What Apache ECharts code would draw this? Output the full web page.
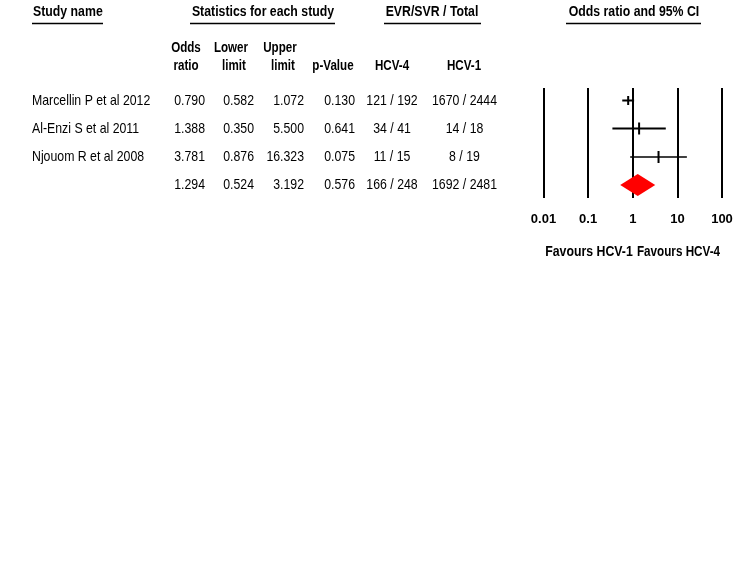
<!DOCTYPE html>
<html><head><meta charset="utf-8">
<script src="https://cdn.jsdelivr.net/npm/echarts@6/dist/echarts.min.js"></script>
<style>html,body{margin:0;padding:0;background:#fff}#c{width:736px;height:584px}</style>
</head><body><div id="c"></div>
<script>
// ---- data ----
const studies = ['Marcellin P et al 2012', 'Al-Enzi S et al 2011', 'Njouom R et al 2008', ''];
const oddsRatio = [0.790, 1.388, 3.781, 1.294];
const lowerLimit = [0.582, 0.350, 0.876, 0.524];
const upperLimit = [1.072, 5.500, 16.323, 3.192];
const pValue = [0.130, 0.641, 0.075, 0.576];
const hcv4 = ['121 / 192', '34 / 41', '11 / 15', '166 / 248'];
const hcv1 = ['1670 / 2444', '14 / 18', '8 / 19', '1692 / 2481'];
const xTicks = [0.01, 0.1, 1, 10, 100];
const favourLabels = ['Favours HCV-1', 'Favours HCV-4'];

// ---- layout ----
const FONT = "'Liberation Sans', Arial, sans-serif";
const NARROW = 0.82;
const rowY = [100.5, 128.5, 157, 185];
const chart = echarts.init(document.getElementById('c'));
const g = [];
function txt(x, y, s, opt) {
  opt = opt || {};
  g.push({type: 'text', x: x, y: y, scaleX: opt.sx || NARROW, scaleY: 1,
    style: {text: s, fill: '#000', font: (opt.bold ? 'bold ' : '') + (opt.size || 15) + 'px ' + FONT,
      textAlign: opt.align || 'left', textVerticalAlign: 'middle'}});
}
function hline(x1, x2, y) {
  g.push({type: 'line', shape: {x1: x1, y1: y, x2: x2, y2: y}, style: {stroke: '#000', lineWidth: 1.5}});
}
// headers
txt(33, 12, 'Study name', {bold: true}); hline(32, 103, 23.5);
txt(263, 12, 'Statistics for each study', {bold: true, align: 'center'}); hline(190, 335, 23.5);
txt(432, 12, 'EVR/SVR / Total', {bold: true, align: 'center'}); hline(384, 481, 23.5);
txt(634, 12, 'Odds ratio and 95% CI', {bold: true, align: 'center'}); hline(566, 701, 23.5);
const sh = {bold: true, align: 'center', size: 14.5, sx: 0.8};
txt(186, 48, 'Odds', sh); txt(186, 66, 'ratio', sh);
txt(231, 48, 'Lower', sh); txt(234, 66, 'limit', sh);
txt(280, 48, 'Upper', sh); txt(283, 66, 'limit', sh);
txt(333, 66, 'p-Value', sh);
txt(392, 66, 'HCV-4', sh);
txt(464, 66, 'HCV-1', sh);
for (let i = 0; i < studies.length; i++) {
  const y = rowY[i];
  txt(32, y, studies[i]);
  txt(205, y, oddsRatio[i].toFixed(3), {align: 'right'});
  txt(254, y, lowerLimit[i].toFixed(3), {align: 'right'});
  txt(304, y, upperLimit[i].toFixed(3), {align: 'right'});
  txt(355, y, pValue[i].toFixed(3), {align: 'right'});
  txt(392, y, hcv4[i], {align: 'center'});
  txt(464.5, y, hcv1[i], {align: 'center'});
}
txt(589, 252, favourLabels[0], {bold: true, align: 'center', size: 15});
txt(678.5, 252, favourLabels[1], {bold: true, align: 'center', size: 15, sx: 0.78});

const studyData = [];
for (let i = 0; i < 3; i++) studyData.push([lowerLimit[i], oddsRatio[i], upperLimit[i], i + 1]);
const summaryData = [[lowerLimit[3], oddsRatio[3], upperLimit[3], 4]];
const lineW = [2, 2, 1.3];
const tickH = [4.5, 6, 6];

chart.setOption({
  animation: false,
  graphic: g,
  grid: {left: 543.5, width: 178.5, top: 88, height: 110},
  xAxis: {
    type: 'log', logBase: 10, min: 0.01, max: 100,
    axisLine: {show: false}, axisTick: {show: false},
    splitLine: {show: true, lineStyle: {color: '#000', width: 2}},
    axisLabel: {color: '#000', fontWeight: 'bold', fontSize: 13, fontFamily: FONT, margin: 15,
      formatter: v => { const t = xTicks.find(k => Math.abs(Math.log10(k) - Math.log10(v)) < 1e-6); return t === undefined ? '' : String(t); }}
  },
  yAxis: {type: 'value', inverse: true, min: 0.58, max: 4.46, show: false, splitLine: {show: false}},
  series: [
    {
      type: 'custom', data: studyData, encode: {x: [0, 1, 2], y: 3},
      renderItem: function (params, api) {
        const i = params.dataIndex;
        const p1 = api.coord([api.value(0), api.value(3)]);
        const p2 = api.coord([api.value(2), api.value(3)]);
        const pm = api.coord([api.value(1), api.value(3)]);
        const yy = rowY[i];
        const st = {stroke: '#000', lineWidth: lineW[i]};
        return {type: 'group', children: [
          {type: 'line', shape: {x1: p1[0], y1: yy, x2: p2[0], y2: yy}, style: st},
          {type: 'line', shape: {x1: pm[0], y1: yy - tickH[i], x2: pm[0], y2: yy + tickH[i]}, style: {stroke: '#000', lineWidth: 2}}
        ]};
      }
    },
    {
      type: 'custom', data: summaryData, encode: {x: [0, 1, 2], y: 3},
      renderItem: function (params, api) {
        const p1 = api.coord([api.value(0), api.value(3)]);
        const p2 = api.coord([api.value(2), api.value(3)]);
        const pm = api.coord([api.value(1), api.value(3)]);
        const h = 11;
        return {type: 'polygon', shape: {points: [[p1[0], p1[1]], [pm[0], pm[1] - h], [p2[0], p2[1]], [pm[0], pm[1] + h]]}, style: {fill: '#ff0000'}};
      }
    }
  ]
});
</script></body></html>
